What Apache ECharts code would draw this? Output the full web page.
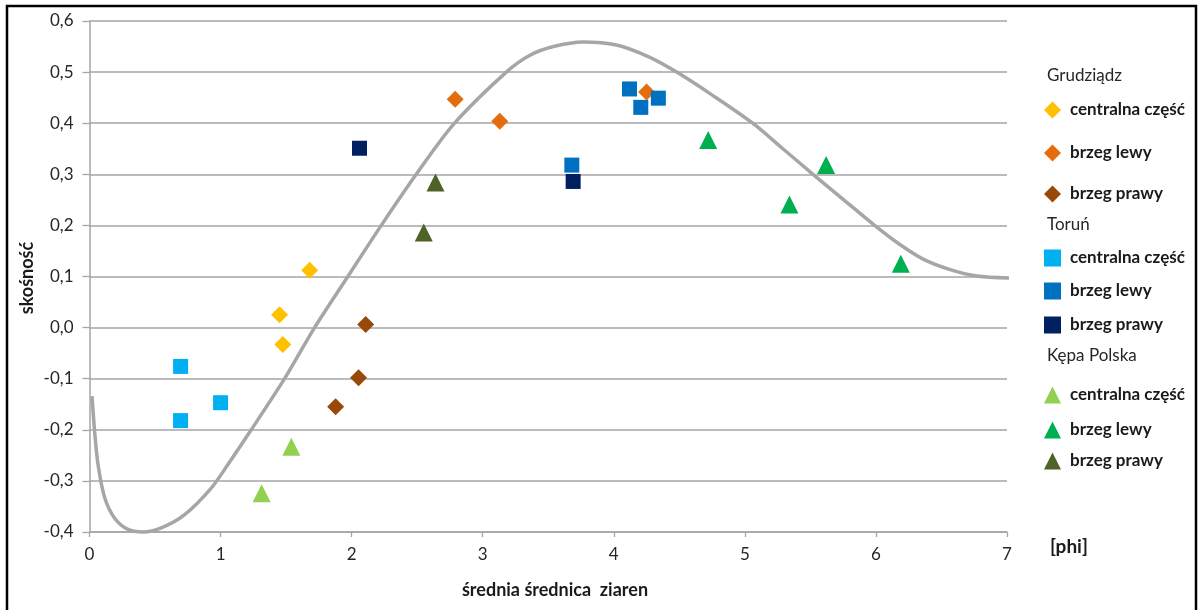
<!DOCTYPE html>
<html>
<head>
<meta charset="utf-8">
<script src="https://cdn.jsdelivr.net/npm/echarts@6/dist/echarts.min.js"></script>
<style>
  html, body { margin: 0; padding: 0; background: #ffffff; }
  #chart { width: 1201px; height: 610px; }
</style>
</head>
<body>
<div id="chart"></div>
<script>
// ---- data ----
const groups = ['Grudziądz', 'Toruń', 'Kępa Polska'];
const parts = ['centralna część', 'brzeg lewy', 'brzeg prawy'];

const grudziadzCentral = [[1.45, 0.025], [1.475, -0.033], [1.68, 0.112]];
const grudziadzLeft    = [[2.79, 0.447], [3.13, 0.404], [4.25, 0.461]];
const grudziadzRight   = [[2.107, 0.006], [2.053, -0.098], [1.878, -0.155]];

const torunCentral = [[0.695, -0.076], [0.695, -0.182], [1.0, -0.147]];
const torunLeft    = [[4.12, 0.467], [4.206, 0.431], [4.34, 0.449], [3.68, 0.318]];
const torunRight   = [[2.06, 0.351], [3.69, 0.286]];

const kepaCentral = [[1.313, -0.324], [1.54, -0.233]];
const kepaLeft    = [[4.72, 0.367], [5.62, 0.318], [5.34, 0.241], [6.19, 0.125]];
const kepaRight   = [[2.64, 0.284], [2.55, 0.186]];

const curveX = [0.019, 0.039, 0.065, 0.116, 0.192, 0.294, 0.408, 0.548, 0.726, 0.929, 1.056, 1.234, 1.488, 1.717, 1.971, 2.226, 2.493, 2.785, 3.18, 3.36, 3.54, 3.765, 4.02, 4.275, 4.48, 4.757, 5.06, 5.29, 5.52, 5.75, 5.99, 6.18, 6.36, 6.56, 6.77, 7.04];
const curveY = [-0.134, -0.203, -0.268, -0.333, -0.373, -0.395, -0.4, -0.392, -0.366, -0.314, -0.268, -0.2, -0.1, 0.0, 0.1, 0.2, 0.3, 0.4, 0.5, 0.533, 0.55, 0.559, 0.553, 0.529, 0.5, 0.454, 0.4, 0.35, 0.3, 0.251, 0.2, 0.163, 0.134, 0.114, 0.101, 0.097];

const xTicks = { min: 0, max: 7, step: 1 };
const yTicks = { min: -0.4, max: 0.6, step: 0.1 };

// ---- styles ----
const FONT = 'Lato';
const groupData = [
  [grudziadzCentral, grudziadzLeft, grudziadzRight],
  [torunCentral, torunLeft, torunRight],
  [kepaCentral, kepaLeft, kepaRight]
];
const groupColors = [
  ['#FFC000', '#E46C0A', '#984807'],
  ['#00B0F0', '#0070C0', '#002060'],
  ['#92D050', '#00B050', '#4F6228']
];
const groupSymbols = ['diamond', 'rect', 'triangle'];
const groupSymbolSizes = [17, 15, 18];
const groupTitleY = [78, 227, 358];
const itemY = [[110, 153, 194], [258, 291, 325], [395, 430, 461]];

const series = [{
  type: 'line',
  name: 'curve',
  data: curveX.map((x, i) => [x, curveY[i]]),
  smooth: 0.3,
  symbol: 'none',
  clip: false,
  lineStyle: { color: '#A6A6A6', width: 3.5 },
  silent: true,
  z: 1
}];
const legends = [];
const graphics = [];

groups.forEach((g, gi) => {
  graphics.push({
    type: 'text', left: 1047, top: groupTitleY[gi] - 11,
    style: { text: g, font: '17px ' + FONT, fill: '#262626' }
  });
  parts.forEach((p, pi) => {
    const name = g + ' – ' + p;
    series.push({
      type: 'scatter',
      name: name,
      data: groupData[gi][pi],
      symbol: groupSymbols[gi],
      symbolSize: groupSymbolSizes[gi],
      itemStyle: { color: groupColors[gi][pi], opacity: 1 },
      z: 3
    });
    legends.push({
      data: [{ name: name, icon: groupSymbols[gi] }],
      orient: 'vertical',
      left: 1044,
      top: itemY[gi][pi] - 8.5,
      padding: 0,
      itemWidth: 17,
      itemHeight: 17,
      selectedMode: false,
      formatter: (n) => n.split(' – ')[1],
      textStyle: { fontFamily: FONT, fontWeight: 'bold', fontSize: 17, color: '#1a1a1a', padding: [0, 0, 0, 4] }
    });
  });
});

graphics.push(
  { type: 'rect', shape: { x: 7, y: 6, width: 1189, height: 610 },
    style: { fill: 'none', stroke: '#000', lineWidth: 2.5 }, silent: true },
  { type: 'text', x: 27, y: 278, rotation: Math.PI / 2,
    style: { text: 'skośność', font: 'bold 18px ' + FONT, fill: '#1a1a1a', align: 'center', verticalAlign: 'middle' } },
  { type: 'text', x: 555, y: 590,
    style: { text: 'średnia średnica  ziaren', font: 'bold 18px ' + FONT, fill: '#1a1a1a', align: 'center', verticalAlign: 'middle' } },
  { type: 'text', x: 1069, y: 547,
    style: { text: '[phi]', font: 'bold 19px ' + FONT, fill: '#1a1a1a', align: 'center', verticalAlign: 'middle' } }
);

const fmt = (v) => {
  if (Math.abs(v) < 1e-9) return '0,0';
  return v.toFixed(1).replace('.', ',');
};

const chart = echarts.init(document.getElementById('chart'), null, { renderer: 'canvas' });
chart.setOption({
  animation: false,
  backgroundColor: '#ffffff',
  grid: { left: 89.5, right: 194, top: 21, bottom: 78, containLabel: false },
  xAxis: {
    type: 'value', min: xTicks.min, max: xTicks.max, interval: xTicks.step,
    axisLine: { show: true, onZero: false, lineStyle: { color: '#A5A5A5', width: 1.5 } },
    axisTick: { show: true, length: 5, lineStyle: { color: '#A5A5A5', width: 1.3 } },
    splitLine: { show: false },
    axisLabel: { margin: 14, fontFamily: FONT, fontSize: 17, color: '#262626' }
  },
  yAxis: {
    type: 'value', min: yTicks.min, max: yTicks.max, interval: yTicks.step,
    axisLine: { show: true, onZero: false, lineStyle: { color: '#A5A5A5', width: 1.5 } },
    axisTick: { show: true, length: 7, lineStyle: { color: '#A5A5A5', width: 1.3 } },
    splitLine: { show: true, lineStyle: { color: '#A5A5A5', width: 1.5 } },
    axisLabel: { margin: 16, fontFamily: FONT, fontSize: 17, color: '#262626', formatter: fmt }
  },
  legend: legends,
  graphic: graphics,
  series: series
});
</script>
</body>
</html>
